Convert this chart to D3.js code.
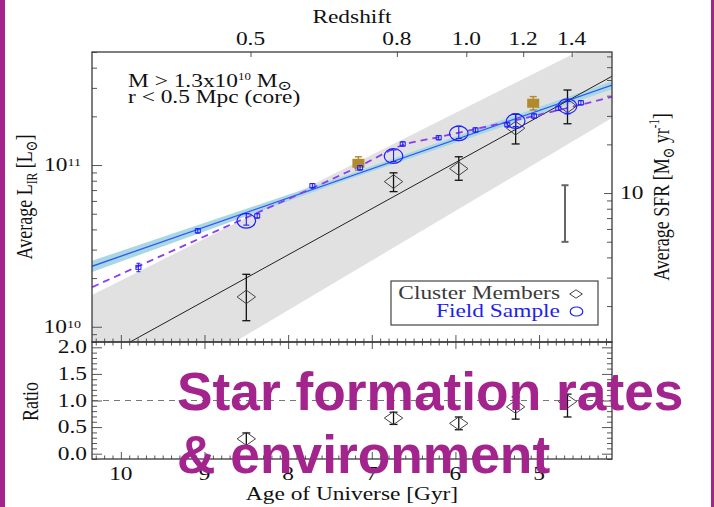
<!DOCTYPE html>
<html>
<head>
<meta charset="utf-8">
<script src="https://cdn.jsdelivr.net/npm/d3@7"></script>
<style>
  html, body { margin: 0; padding: 0; background: #fff; }
  svg { display: block; }
</style>
</head>
<body>
<svg id="chart" width="714" height="507"></svg>
<script>
// ---------- data ----------
const ageDomain = [10.345, 4.128];        // Age of Universe [Gyr], left -> right
const lirDomain = [8.05e9, 5e11];         // Average L_IR [L_sun]
const ratioDomain = [-0.1, 2.1];
const sfrPerLir = 1.49e-10;               // SFR [M_sun/yr] per L_sun of L_IR

const redshiftTicks = ["0.5", "0.8", "1.0", "1.2", "1.4"];
const redshiftTickAges = [8.45, 6.70, 5.87, 5.19, 4.61];
const ageTicks = [10, 9, 8, 7, 6, 5];
const ratioTicks = [0, 0.5, 1, 1.5, 2];

// cluster members (core)
const clusterAge = [8.50, 6.74, 5.96, 5.28, 4.66];
const clusterL   = [1.53e10, 7.9e10, 9.5e10, 1.69e11, 2.32e11];
const clusterLo  = [1.09e10, 6.85e10, 8.05e10, 1.35e11, 1.80e11];
const clusterHi  = [2.11e10, 8.95e10, 1.125e11, 2.06e11, 2.91e11];

// field sample, same redshift bins
const fieldL  = [4.52e10, 1.137e11, 1.57e11, 1.87e11, 2.31e11];
const fieldLo = [4.25e10, 1.05e11, 1.46e11, 1.73e11, 2.07e11];
const fieldHi = [5.01e10, 1.24e11, 1.74e11, 2.07e11, 2.47e11];

// cluster / field ratio
const ratio   = [0.28, 0.67, 0.57, 0.88, 0.98];
const ratioLo = [0.15, 0.55, 0.45, 0.65, 0.69];
const ratioHi = [0.39, 0.78, 0.69, 1.07, 1.12];

// field sample, fine bins
const fineAge = [9.79, 9.08, 8.37, 7.71, 7.14, 6.63, 6.20, 5.76, 5.38, 5.06, 4.77, 4.50];
const fineL   = [2.33e10, 3.92e10, 4.85e10, 7.45e10, 9.62e10, 1.35e11, 1.476e11, 1.648e11, 1.774e11, 2.01e11, 2.244e11, 2.427e11];
const fineErr = [0.14e10, 0.13e10, 0.16e10, 0.24e10, 0.31e10, 0.43e10, 0.47e10, 0.53e10, 0.57e10, 0.64e10, 0.72e10, 0.78e10];

// filled squares
const goldAge = [7.16, 5.07];
const goldL   = [1.025e11, 2.41e11];
const goldLo  = [0.93e11, 2.19e11];
const goldHi  = [1.125e11, 2.65e11];

// fits
const fitAge        = [10.345, 4.128];
const clusterFitL   = [5.97e9, 3.54e11];
const clusterBandHi = [1.57e10, 6.42e11];
const clusterBandLo = [2.41e9, 1.956e11];
const fieldFitL     = [2.366e10, 3.12e11];
const fieldBandAge  = [10.345, 7.3, 4.128];
const fieldBandHi   = [2.56e10, 8.69e10, 3.30e11];
const fieldBandLo   = [2.18e10, 8.07e10, 2.94e11];
const evolutionAge  = [10.343, 8.696, 7.895, 7.142, 6.628, 6.197, 5.061, 4.127];
const evolutionL    = [1.758e10, 4.26e10, 6.52e10, 9.86e10, 1.33e11, 1.49e11, 2.01e11, 2.64e11];

// representative uncertainty bar
const typicalErrAge = 4.69;
const typicalErrL = [3.35e10, 7.5e10];

// ---------- layout & styles ----------
const L = 92, R = 612, T = 52, MID = 342, B = 459;
const SERIF = "'Liberation Serif', 'Times New Roman', 'DejaVu Serif', serif";
const SX = 1.3;                 // horizontal stretch of chart lettering
const INK = "#111";
const FRAME = "#3a3a3a";
const TICK = "#555";
const BLUE = "#1f1fff";
const PURPLE = "#a4248e";

const svg = d3.select("#chart");

const x = d3.scaleLinear().domain(ageDomain).range([L, R]);
const yL = d3.scaleLog().domain(lirDomain).range([MID, T]);
const ySfr = d3.scaleLog().domain(lirDomain.map(v => v * sfrPerLir)).range([MID, T]);
const yR = d3.scaleLinear().domain(ratioDomain).range([B, MID]);

// side bars of the slide
svg.append("rect").attr("x", 0).attr("y", 0).attr("width", 5).attr("height", 507).attr("fill", PURPLE);
svg.append("rect").attr("x", 711).attr("y", 0).attr("width", 3).attr("height", 507).attr("fill", PURPLE);

// text with sub/superscripts; parts = [text, baselineOffset, sizeScale]
function richText(parent, px, py, parts, opt = {}) {
  const size = opt.size || 18;
  const t = parent.append("text")
    .attr("transform", `translate(${px},${py}) scale(${SX},1)` + (opt.rotate ? " rotate(-90)" : ""))
    .attr("text-anchor", opt.anchor || "middle")
    .attr("font-family", SERIF)
    .attr("font-size", size)
    .attr("fill", opt.fill || INK);
  let cur = 0;
  parts.forEach(p => {
    const [str, off = 0, sc = 1] = Array.isArray(p) ? p : [p];
    t.append("tspan").attr("dy", off - cur).attr("font-size", size * sc).text(str);
    cur = off;
  });
  return t;
}

// ---------- top panel ----------
svg.append("clipPath").attr("id", "clipTop")
  .append("rect").attr("x", L).attr("y", T).attr("width", R - L).attr("height", MID - T);
const topG = svg.append("g").attr("clip-path", "url(#clipTop)");

// cluster fit confidence region
const bandArea = d3.area()
  .x((d, i) => x(fitAge[i]))
  .y0((d, i) => yL(clusterBandLo[i]))
  .y1((d, i) => yL(clusterBandHi[i]));
topG.append("path").datum(fitAge).attr("d", bandArea).attr("fill", "#e1e1e1");

// field fit uncertainty
const fieldArea = d3.area()
  .x((d, i) => x(fieldBandAge[i]))
  .y0((d, i) => yL(fieldBandLo[i]))
  .y1((d, i) => yL(fieldBandHi[i]));
topG.append("path").datum(fieldBandAge).attr("d", fieldArea).attr("fill", "#a9d8e2");

// fit lines
const fitLine = vals => d3.line().x((d, i) => x(fitAge[i])).y((d, i) => yL(vals[i]));
topG.append("path").datum(fitAge).attr("d", fitLine(clusterFitL))
  .attr("fill", "none").attr("stroke", "#222").attr("stroke-width", 1);
topG.append("path").datum(fitAge).attr("d", fitLine(fieldFitL))
  .attr("fill", "none").attr("stroke", "#2f55ff").attr("stroke-width", 1.3);

// field evolution curve
const evoLine = d3.line().curve(d3.curveMonotoneX)
  .x((d, i) => x(evolutionAge[i])).y((d, i) => yL(evolutionL[i]));
topG.append("path").datum(evolutionAge).attr("d", evoLine)
  .attr("fill", "none").attr("stroke", "#8c3cf0").attr("stroke-width", 1.8)
  .attr("stroke-dasharray", "7,5");

function errBar(g, cx, y0, y1, cap, color, width) {
  g.append("line").attr("x1", cx).attr("x2", cx).attr("y1", y0).attr("y2", y1)
    .attr("stroke", color).attr("stroke-width", width);
  [y0, y1].forEach(yy => g.append("line")
    .attr("x1", cx - cap).attr("x2", cx + cap).attr("y1", yy).attr("y2", yy)
    .attr("stroke", color).attr("stroke-width", width));
}
const diamond = (cx, cy, hw, hh) => `M${cx},${cy - hh}L${cx + hw},${cy}L${cx},${cy + hh}L${cx - hw},${cy}Z`;

// representative error
errBar(topG, x(typicalErrAge), yL(typicalErrL[0]), yL(typicalErrL[1]), 3.5, "#666", 2);

// cluster members
clusterAge.forEach((a, i) => {
  errBar(topG, x(a), yL(clusterLo[i]), yL(clusterHi[i]), 4, "#111", 1.3);
  topG.append("path").attr("d", diamond(x(a), yL(clusterL[i]), 9.2, 6.8))
    .attr("fill", "none").attr("stroke", "#444").attr("stroke-width", 1);
});

// field sample (wide bins)
clusterAge.forEach((a, i) => {
  errBar(topG, x(a), yL(fieldLo[i]), yL(fieldHi[i]), 3, BLUE, 1.1);
  topG.append("ellipse").attr("cx", x(a)).attr("cy", yL(fieldL[i]))
    .attr("rx", 9.3).attr("ry", 7.3)
    .attr("fill", "none").attr("stroke", BLUE).attr("stroke-width", 1.2);
});

// filled squares
goldAge.forEach((a, i) => {
  errBar(topG, x(a), yL(goldLo[i]), yL(goldHi[i]), 3.5, "#b08a2c", 1.4);
  topG.append("rect").attr("x", x(a) - 6).attr("y", yL(goldL[i]) - 4.5)
    .attr("width", 12).attr("height", 9).attr("fill", "#b08a2c");
});

// field sample (fine bins)
fineAge.forEach((a, i) => {
  errBar(topG, x(a), yL(fineL[i] - fineErr[i]), yL(fineL[i] + fineErr[i]), 2, BLUE, 1);
  topG.append("rect").attr("x", x(a) - 2.5).attr("y", yL(fineL[i]) - 2)
    .attr("width", 5).attr("height", 4)
    .attr("fill", "none").attr("stroke", BLUE).attr("stroke-width", 1);
});

// ---------- ratio panel ----------
svg.append("line").attr("x1", L).attr("x2", R).attr("y1", yR(1)).attr("y2", yR(1))
  .attr("stroke", "#777").attr("stroke-width", 1.2).attr("stroke-dasharray", "6,5");
ratio.forEach((r, i) => {
  const cx = x(clusterAge[i]);
  errBar(svg, cx, yR(ratioLo[i]), yR(ratioHi[i]), 4, "#111", 1.3);
  svg.append("path").attr("d", diamond(cx, yR(r), 9.2, 6.5))
    .attr("fill", "none").attr("stroke", "#444").attr("stroke-width", 1);
});

// ---------- axes ----------
const axes = svg.append("g");
function ticks(axisFn, scale, values, size, tx, ty) {
  axes.append("g").attr("transform", `translate(${tx},${ty})`)
    .call(axisFn(scale).tickValues(values).tickSize(size).tickFormat(""))
    .call(g => g.select(".domain").remove())
    .call(g => g.selectAll("line").attr("stroke", TICK).attr("stroke-width", 1));
}
const isPow10 = v => Math.abs(Math.log10(v) - Math.round(Math.log10(v))) < 1e-6;

const lTicks = yL.ticks();
ticks(d3.axisLeft, yL, lTicks.filter(v => !isPow10(v)), -5, L, 0);
ticks(d3.axisLeft, yL, lTicks.filter(isPow10), -10, L, 0);
const sTicks = ySfr.ticks();
ticks(d3.axisRight, ySfr, sTicks.filter(v => !isPow10(v)), -5, R, 0);
ticks(d3.axisRight, ySfr, sTicks.filter(isPow10), -8, R, 0);

ticks(d3.axisTop, x, redshiftTickAges, -5, 0, T);

const ageMinor = x.ticks(60).filter(v => Math.abs(v - Math.round(v)) > 1e-6);
const ageMajor = x.ticks(60).filter(v => Math.abs(v - Math.round(v)) <= 1e-6);
[[d3.axisBottom, MID], [d3.axisTop, MID], [d3.axisBottom, B]].forEach(([fn, yy]) => {
  ticks(fn, x, ageMinor, -3.5, 0, yy);
  ticks(fn, x, ageMajor, -7, 0, yy);
});

const rAll = yR.ticks(22);
const isHalf = v => Math.abs(v * 2 - Math.round(v * 2)) < 1e-6;
ticks(d3.axisLeft, yR, rAll.filter(v => !isHalf(v)), -5, L, 0);
ticks(d3.axisLeft, yR, rAll.filter(isHalf), -10, L, 0);
ticks(d3.axisRight, yR, rAll.filter(v => !isHalf(v)), -5, R, 0);
ticks(d3.axisRight, yR, rAll.filter(isHalf), -10, R, 0);

// frames
axes.append("rect").attr("x", L).attr("y", T).attr("width", R - L).attr("height", MID - T)
  .attr("fill", "none").attr("stroke", FRAME).attr("stroke-width", 1.3);
axes.append("rect").attr("x", L).attr("y", MID).attr("width", R - L).attr("height", B - MID)
  .attr("fill", "none").attr("stroke", FRAME).attr("stroke-width", 1.3);

// ---------- labels ----------
const txt = svg.append("g");
richText(txt, (L + R) / 2, 23, ["Redshift"]);
redshiftTicks.forEach((s, i) => richText(txt, x(redshiftTickAges[i]), 45, [s]));
ageTicks.forEach(a => richText(txt, x(a), 480, [String(a)]));
richText(txt, (L + R) / 2, 500, ["Age of Universe [Gyr]"]);

lTicks.filter(isPow10).forEach(v => {
  richText(txt, 81, yL(v) + 6, ["10", [String(Math.round(Math.log10(v))), -5, 0.6]], { anchor: "end" });
});
sTicks.filter(isPow10).forEach(v => {
  richText(txt, 620, ySfr(v) + 6, [String(v)], { anchor: "start" });
});
ratioTicks.forEach(v => richText(txt, 87, yR(v) + 6, [v.toFixed(1)], { anchor: "end" }));

richText(txt, 32, (T + MID) / 2,
  ["Average L", ["IR", 4, 0.65], [" [L", 0], ["\u2299", 4, 0.7], ["]", 0]], { rotate: true });
richText(txt, 668.5, (T + MID) / 2,
  ["Average SFR [M", ["\u2299", 4, 0.7], [" yr", 0], ["-1", -7, 0.6], ["]", 0]], { rotate: true });
richText(txt, 38, (MID + B) / 2 + 1, ["Ratio"], { rotate: true });

richText(txt, 128, 86.5,
  ["M > 1.3x10", ["10", -7, 0.55], [" M", 0], ["\u2299", 3, 0.75]], { anchor: "start" });
richText(txt, 128, 103, ["r < 0.5 Mpc (core)"], { anchor: "start" });

// legend
const leg = svg.append("g");
leg.append("rect").attr("x", 391).attr("y", 281).attr("width", 207).attr("height", 44)
  .attr("fill", "#fff").attr("stroke", "#444").attr("stroke-width", 1.2);
richText(leg, 560, 299, ["Cluster Members"], { anchor: "end", fill: "#3a3a3a" });
richText(leg, 560, 316.5, ["Field Sample"], { anchor: "end", fill: "#1f1fee" });
leg.append("path").attr("d", diamond(576, 294, 6.3, 4.2))
  .attr("fill", "none").attr("stroke", "#444").attr("stroke-width", 1);
leg.append("ellipse").attr("cx", 576.5).attr("cy", 311.5).attr("rx", 6.3).attr("ry", 4.5)
  .attr("fill", "none").attr("stroke", BLUE).attr("stroke-width", 1.2);

// ---------- slide title ----------
const title = svg.append("g")
  .attr("font-family", "'Liberation Sans', Arial, Helvetica, sans-serif")
  .attr("font-weight", "bold").attr("font-size", 53.3).attr("fill", PURPLE);
title.append("text").attr("x", 177).attr("y", 409.5).text("Star formation rates");
title.append("text").attr("x", 177).attr("y", 472.5).text("& environment");
</script>
</body>
</html>
